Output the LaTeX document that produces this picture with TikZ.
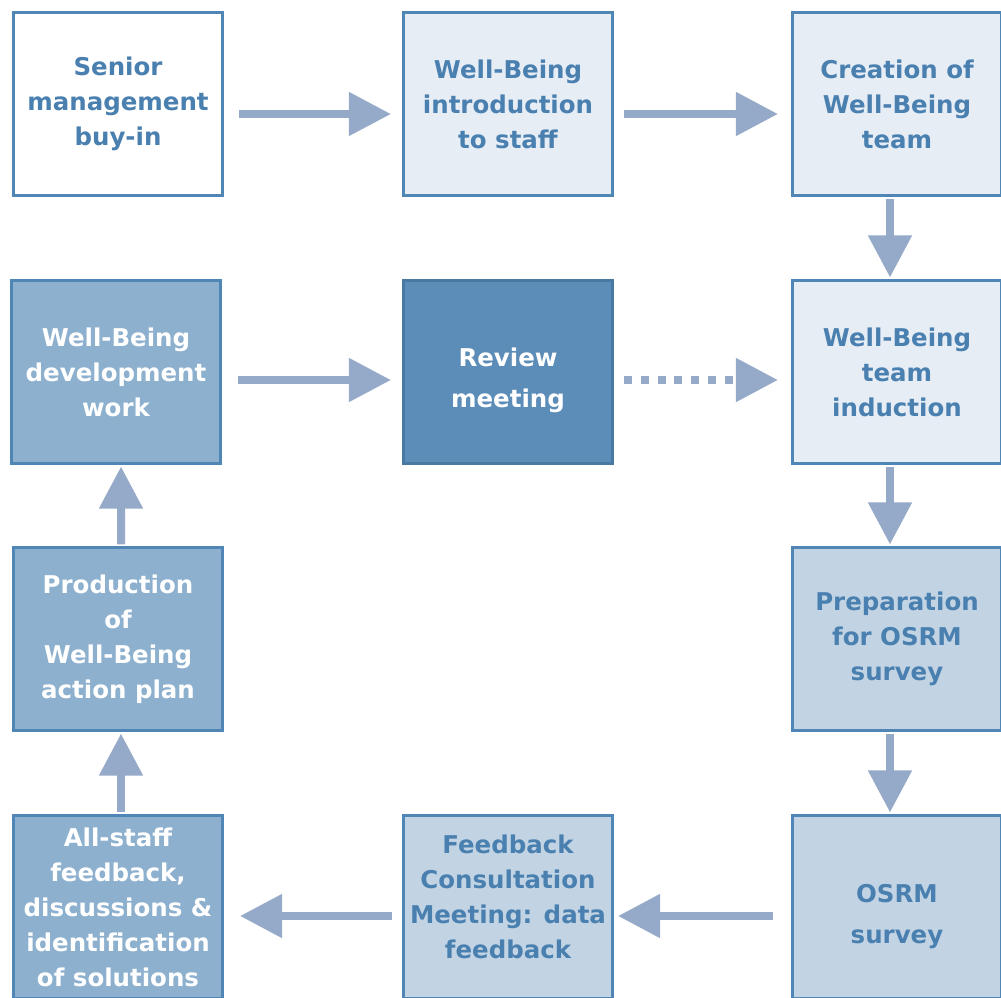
\documentclass[tikz,border=0pt]{standalone}
\usepackage{fontspec}
\setmainfont{DejaVu Sans}
\usepackage{xcolor}
\usetikzlibrary{arrows.meta,positioning}

\definecolor{edgeblue}{RGB}{79,134,181}
\definecolor{textblue}{RGB}{74,128,176}
\definecolor{palefill}{RGB}{230,237,245}
\definecolor{midfill}{RGB}{194,212,228}
\definecolor{deepfill}{RGB}{141,176,206}
\definecolor{darkfill}{RGB}{91,141,184}
\definecolor{arrowgrey}{RGB}{149,169,200}

\tikzset{
  box/.style={draw=edgeblue, line width=0.075cm, minimum width=5.225cm, minimum height=4.55cm,
    align=center, font=\bfseries\fontsize{17.4}{24.9}\selectfont, text=textblue},
  plain/.style={box, fill=white},
  pale/.style={box, fill=palefill},
  mid/.style={box, fill=midfill},
  deep/.style={box, fill=deepfill, text=white},
  dark/.style={box, fill=darkfill, text=white, draw=edgeblue!90!black},
  flow/.style={draw=arrowgrey, line width=0.2cm, -{Triangle[length=1.05cm,width=1.05cm]}},
}

\begin{document}
\begin{tikzpicture}[x=0.025cm,y=-0.025cm]
\useasboundingbox (0,0) rectangle (1001,998);

% top row
\node[plain] (snr)   at (118,104) {Senior\\management\\buy-in};
\node[pale]  (intro) at (508,104) {Well-Being\\introduction\\to staff};
\node[pale]  (team)  at (897,104) {Creation of\\Well-Being\\team};

% second row
\node[deep]  (devwork) at (116,372) {Well-Being\\development\\work};
\node[dark]  (review)  at (508,372) {Review\\[0.15cm]meeting\\[-1.18cm]};
\node[pale]  (induct)  at (897,372) {Well-Being\\team\\induction};

% third row
\node[deep]  (plan) at (118,639) {Production\\of\\Well-Being\\action plan};
\node[mid]   (prep) at (897,639) {Preparation\\for OSRM\\survey};

% bottom row
\node[deep]  (allstaff) at (118,907) {All-staff\\feedback,\\discussions \&\\identification\\of solutions};
\node[mid]   (consult)  at (508,907) {Feedback\\Consultation\\Meeting: data\\feedback\\[-0.36cm]};
\node[mid]   (osrm)     at (897,907) {OSRM\\[0.15cm]survey\\[-1.23cm]};

\draw[flow, shorten <=0.375cm, shorten >=0.275cm] ([yshift=-0.25cm]snr.east) -- ([yshift=-0.25cm]intro.west);
\draw[flow, shorten <=0.25cm, shorten >=0.325cm] ([yshift=-0.25cm]intro.east) -- ([yshift=-0.25cm]team.west);
\draw[flow, shorten <=0.05cm, shorten >=0.05cm] ([xshift=-0.175cm]team.south) -- ([xshift=-0.175cm]induct.north);
\draw[flow, shorten <=0.05cm, shorten >=0.05cm] ([xshift=-0.175cm]induct.south) -- ([xshift=-0.175cm]prep.north);
\draw[flow, shorten <=0.05cm, shorten >=0.05cm] ([xshift=-0.175cm]prep.south) -- ([xshift=-0.175cm]osrm.north);
\draw[flow, shorten <=0.45cm, shorten >=0.1cm] ([yshift=-0.225cm]osrm.west) -- ([yshift=-0.225cm]consult.east);
\draw[flow, shorten <=0.25cm, shorten >=0.4cm] ([yshift=-0.225cm]consult.west) -- ([yshift=-0.225cm]allstaff.east);
\draw[flow, shorten <=0.05cm, shorten >=0.05cm] ([xshift=0.075cm]allstaff.north) -- ([xshift=0.075cm]plan.south);
\draw[flow, shorten <=0.05cm, shorten >=0.05cm] ([xshift=0.075cm]plan.north) -- ([xshift=0.125cm]devwork.south);
\draw[flow, shorten <=0.4cm, shorten >=0.275cm] ([yshift=-0.2cm]devwork.east) -- ([yshift=-0.2cm]review.west);
\draw[flow, dash pattern=on 0.2cm off 0.22cm, shorten <=0.25cm, shorten >=0.325cm] ([yshift=-0.2cm]review.east) -- ([yshift=-0.2cm]induct.west);
\end{tikzpicture}
\end{document}
